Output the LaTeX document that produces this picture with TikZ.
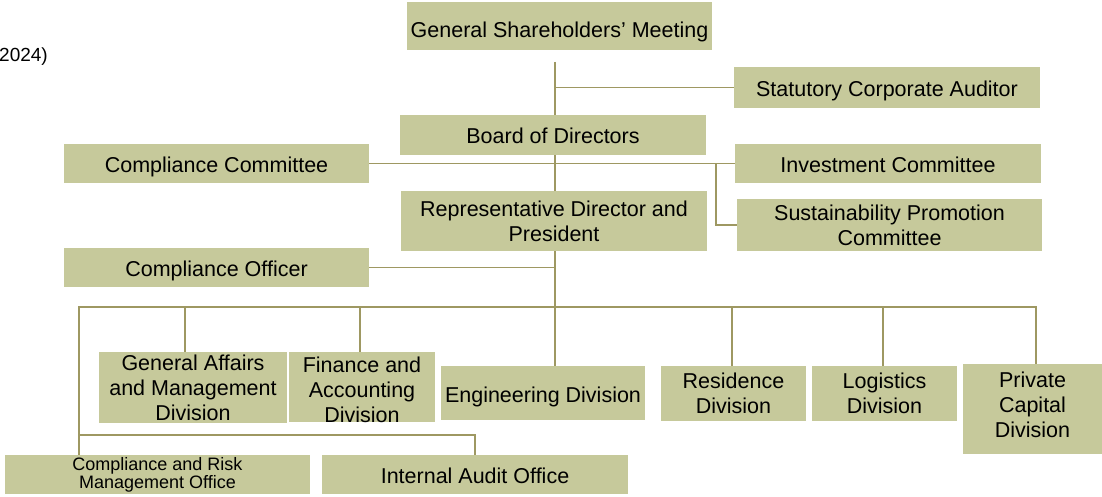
\documentclass[tikz,border=0pt]{standalone}
\usepackage{fontspec}
\setmainfont{Liberation Sans}
\definecolor{boxfill}{HTML}{C6C99B}
\definecolor{linecol}{HTML}{9E9862}
\begin{document}
\begin{tikzpicture}[x=1pt,y=-1pt,
  orgbox/.style={fill=boxfill, draw=none, inner sep=0pt, align=center,
    font=\fontsize{21.5}{25}\selectfont},
  oneline/.style={orgbox, text height=18.4pt, text depth=0pt},
  smallbox/.style={orgbox, font=\fontsize{18}{18}\selectfont},
  plaintext/.style={font=\fontsize{21.5}{25}\selectfont, align=center, inner sep=0pt},
  conn/.style={draw=linecol, line width=1.8pt}]
\useasboundingbox[fill=white] (0,0) rectangle (1102,497);
% nodes
\node[oneline, text height=23pt, minimum width=305pt, minimum height=48pt] (gsm) at (559.5,26) {General Shareholders’ Meeting};
\node[oneline, minimum width=306pt, minimum height=41pt] (aud) at (887,87.5) {Statutory Corporate Auditor};
\node[oneline, text height=16.6pt, minimum width=306pt, minimum height=40pt] (bod) at (553,135) {Board of Directors};
\node[oneline, minimum width=305pt, minimum height=39pt] (cc) at (216.5,163.5) {Compliance Committee};
\node[oneline, minimum width=306pt, minimum height=39pt] (inv) at (888,163.5) {Investment Committee};
\node[orgbox, minimum width=305pt, minimum height=52pt] (sus) at (889.5,225) {Sustainability Promotion\\Committee};
\node[orgbox, minimum width=306pt, minimum height=60pt] (rep) at (554,221) {Representative Director and\\President};
\node[oneline, minimum width=305pt, minimum height=39pt] (co) at (216.5,267.5) {Compliance Officer};
\node[orgbox, minimum width=188pt, minimum height=71pt] (ga) at (193,387.5) {General Affairs\\and Management\\Division};
\node[orgbox, minimum width=146pt, minimum height=70pt] (fin) at (362,387) {};
\node[plaintext] (fintxt) at (362,389.5) {Finance and\\Accounting\\Division};
\node[oneline, minimum width=204pt, minimum height=54pt] (eng) at (543,393) {Engineering Division};
\node[orgbox, minimum width=145pt, minimum height=55pt] (res) at (733.5,393.5) {Residence\\Division};
\node[orgbox, minimum width=145pt, minimum height=55pt] (log) at (884.5,393.5) {Logistics\\Division};
\node[orgbox, minimum width=139pt, minimum height=90pt] (pcd) at (1032.5,409) {};
\node[plaintext] (pcdtxt) at (1032.5,405) {Private\\Capital\\Division};
\node[smallbox, minimum width=305pt, minimum height=39pt] (crm) at (157.5,474.5) {\raisebox{3pt}{\shortstack{Compliance and Risk\\[-2pt]Management Office}}};
\node[oneline, minimum width=306pt, minimum height=39pt] (iao) at (475,474.5) {Internal Audit Office};
\node[anchor=west, inner sep=0pt, font=\fontsize{19}{23}\selectfont] (yr) at (-1,57) {2024)};
% coordinates
\coordinate (spine) at (555,62);
\coordinate (jn) at (716,163.5);
\coordinate (busL) at (79,307);
\coordinate (busR) at (1036,307);
\coordinate (bGA) at (185,307);
\coordinate (bFin) at (360,307);
\coordinate (bRes) at (732,307);
\coordinate (bLog) at (883,307);
\coordinate (lowL) at (79,435);
% connectors
\draw[conn] (spine) -- (spine |- bod.north);
\draw[conn] (spine |- aud.west) -- (aud.west);
\draw[conn] (spine |- bod.south) -- (spine |- rep.north);
\draw[conn] (cc.east) -- (inv.west);
\draw[conn] (jn) |- (sus.west);
\draw[conn] (spine |- rep.south) -- (spine |- eng.north);
\draw[conn] (co.east) -- (spine |- co.east);
\draw[conn] (busL |- crm.north) -- (busL) -- (busR) -- (busR |- pcd.north);
\draw[conn] (bGA) -- (bGA |- ga.north);
\draw[conn] (bFin) -- (bFin |- fin.north);
\draw[conn] (bRes) -- (bRes |- res.north);
\draw[conn] (bLog) -- (bLog |- log.north);
\draw[conn] (lowL) -| (iao.north);
\end{tikzpicture}
\end{document}
